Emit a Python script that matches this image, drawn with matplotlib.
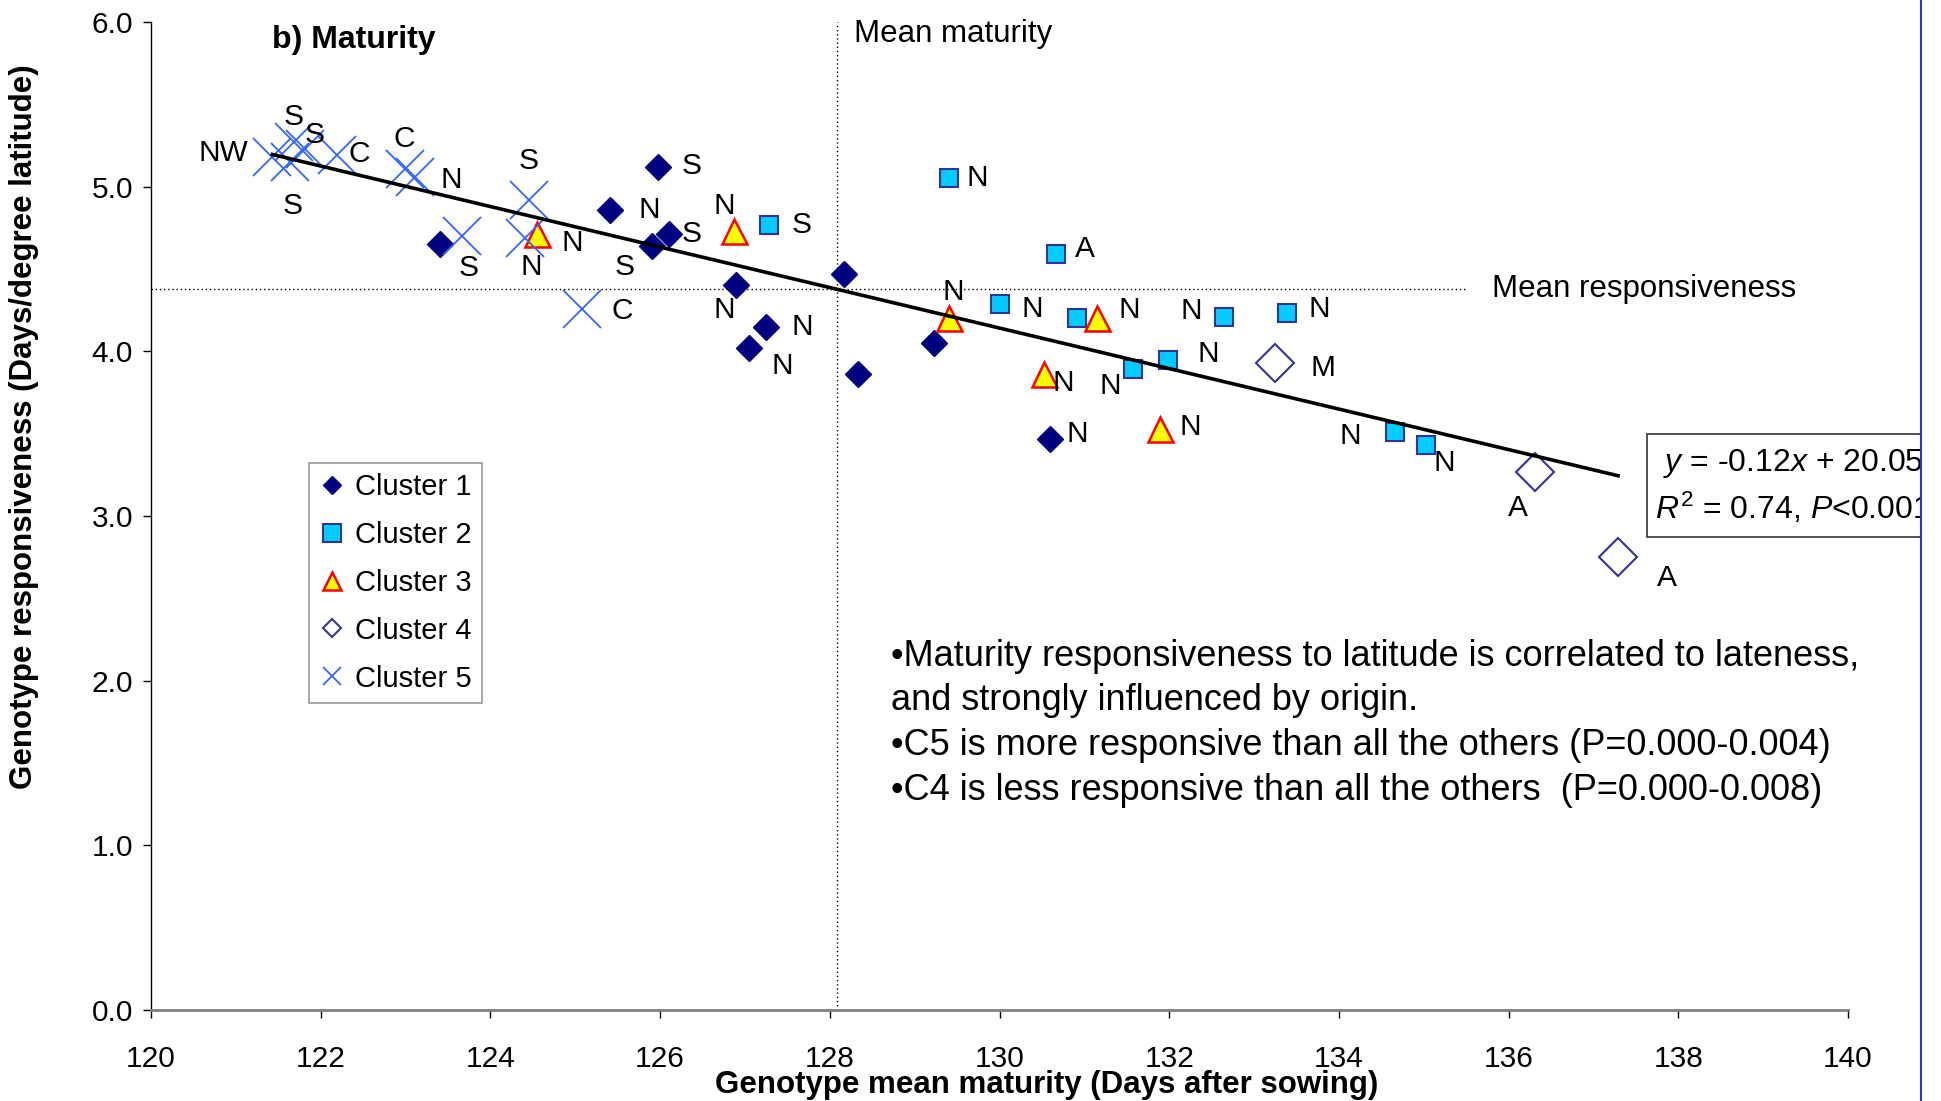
import matplotlib
matplotlib.use("Agg")
import matplotlib.pyplot as plt
from matplotlib.lines import Line2D
from matplotlib.patches import Rectangle
import numpy as np

plt.rcParams['font.family'] = ['Liberation Sans', 'DejaVu Sans']
plt.rcParams['mathtext.fontset'] = 'custom'
plt.rcParams['mathtext.rm'] = 'Liberation Sans'
plt.rcParams['mathtext.it'] = 'Liberation Sans:italic'

# data: maturity (x), responsiveness (y), origin label
c1_x = [123.40, 125.41, 125.98, 125.91, 126.11, 126.90, 127.05, 127.25, 128.17, 128.33, 129.23, 130.59]
c1_y = [4.65, 4.86, 5.12, 4.64, 4.71, 4.40, 4.02, 4.15, 4.47, 3.86, 4.05, 3.47]
c1_lab = ['', 'N', 'S', 'S', 'S', 'N', 'N', 'N', '', '', '', 'N']

c2_x = [127.28, 129.41, 130.66, 130.01, 130.91, 131.57, 131.98, 132.65, 133.39, 134.66, 135.03]
c2_y = [4.77, 5.05, 4.59, 4.29, 4.20, 3.89, 3.95, 4.21, 4.23, 3.51, 3.43]
c2_lab = ['S', 'N', 'A', 'N', '', 'N', 'N', 'N', 'N', 'N', 'N']

c3_x = [124.55, 126.87, 129.41, 130.52, 131.15, 131.89]
c3_y = [4.71, 4.73, 4.20, 3.86, 4.20, 3.53]
c3_lab = ['N', 'N', 'N', 'N', 'N', 'N']

c4_x = [133.25, 136.31, 137.29]
c4_y = [3.93, 3.27, 2.75]
c4_lab = ['M', 'A', 'A']

c5_x = [121.43, 121.68, 121.64, 121.81, 122.19, 122.99, 123.11, 123.66, 124.45, 124.41, 125.08]
c5_y = [5.18, 5.27, 5.15, 5.23, 5.19, 5.11, 5.06, 4.70, 4.92, 4.69, 4.26]
c5_lab = ['NW', 'S', 'S', 'S', 'C', 'C', 'N', 'S', 'S', 'N', 'C']

mean_maturity = 128.08
mean_resp = 4.376

# label offsets (points) relative to each marker
c1_off = [(0, 0), (28, 0), (24, 1), (-20, -15), (16, 0), (-9, -18), (24, -13), (26, 0), (0, 0), (0, 0), (0, 0), (20, 3)]
c2_off = [(24, 0), (20, 0), (21, 4), (23, -4), (0, 0), (-16, -12), (29, 4), (-24, 4), (23, 3), (-32, -3), (13, -13)]
c3_off = [(25, -6), (-7, 18), (3, 19), (14, -6), (23, 6), (22, 1)]
c4_off = [(34, -4), (-12, -26), (35, -15)]
c5_off = [(-35, 3), (0, 18), (2, -32), (7, 10), (16, 1), (0, 21), (26, -2), (5, -23), (0, 28), (4, -21), (29, -2)]

fig = plt.figure(figsize=(19.41, 11.01), dpi=100)
ax = fig.add_axes([0.0778, 0.0827, 0.8743, 0.8973])

ax.plot(c1_x, c1_y, ls='none', marker='D', ms=13.5, mfc='#000080', mec='#000080', zorder=4)
ax.plot(c2_x, c2_y, ls='none', marker='s', ms=13.5, mfc='#00CCFF', mec='#333399', mew=1.5, zorder=4)
ax.plot(c3_x, c3_y, ls='none', marker='^', ms=18, mfc='#FFFF00', mec='#FF0000', mew=1.8, zorder=4)
ax.plot(c4_x, c4_y, ls='none', marker='D', ms=19.5, mfc='none', mec='#333399', mew=1.5, zorder=4)
ax.plot(c5_x, c5_y, ls='none', marker='x', ms=28, mec='#3366FF', mew=1.3, zorder=4)

all_x = np.array(c1_x + c2_x + c3_x + c4_x + c5_x)
all_y = np.array(c1_y + c2_y + c3_y + c4_y + c5_y)
k, b = np.polyfit(all_x, all_y, 1)
xx = np.array([all_x.min(), all_x.max()])
ax.plot(xx, k * xx + b, color='black', lw=2.6, zorder=5)

for xs, ys, labs, offs in [(c1_x, c1_y, c1_lab, c1_off), (c2_x, c2_y, c2_lab, c2_off),
                           (c3_x, c3_y, c3_lab, c3_off), (c4_x, c4_y, c4_lab, c4_off),
                           (c5_x, c5_y, c5_lab, c5_off)]:
    for x, y, t, o in zip(xs, ys, labs, offs):
        if t:
            ax.annotate(t, (x, y), xytext=o, textcoords='offset points',
                        ha='center', va='center', fontsize=21.5, zorder=6)

ax.axvline(mean_maturity, color='black', ls=(0, (1, 2)), lw=1.0, zorder=1)
ax.plot([120, 135.49], [mean_resp, mean_resp], color='black', ls=(0, (1, 2)), lw=1.0, zorder=1)
ax.text(128.29, 5.93, 'Mean maturity', fontsize=22.5, va='center', ha='left')
ax.text(135.8, mean_resp, 'Mean responsiveness', fontsize=22.5, va='center', ha='left')
ax.text(121.43, 5.89, 'b) Maturity', fontsize=23, fontweight='bold', va='center', ha='left')

ax.set_xlim(120, 140)
ax.set_ylim(0, 6)
ax.set_xticks(np.arange(120, 141, 2))
ax.set_yticks(np.arange(0, 6.1, 1))
ax.set_yticklabels([f'{v:.1f}' for v in np.arange(0, 6.1, 1)])
ax.tick_params(axis='both', labelsize=21.5, direction='out', length=6, width=1)
ax.tick_params(axis='x', pad=19)
ax.tick_params(axis='y', pad=7)
ax.spines['top'].set_visible(False)
ax.spines['right'].set_visible(False)
ax.spines['left'].set_linewidth(1)
ax.spines['bottom'].set_color('#808080')
ax.spines['bottom'].set_linewidth(2)

ax.set_xlabel('Genotype mean maturity (Days after sowing)', fontsize=22.5, fontweight='bold')
ax.xaxis.set_label_coords(0.528, -0.061)
ax.set_ylabel('Genotype responsiveness (Days/degree latitude)', fontsize=22.5, fontweight='bold')
ax.yaxis.set_label_coords(-0.066, 0.59)

handles = [
    Line2D([], [], ls='none', marker='D', ms=9.5, mfc='#000080', mec='#000080'),
    Line2D([], [], ls='none', marker='s', ms=12.5, mfc='#00CCFF', mec='#333399', mew=1.5),
    Line2D([], [], ls='none', marker='^', ms=13, mfc='#FFFF00', mec='#FF0000', mew=1.8),
    Line2D([], [], ls='none', marker='D', ms=9.5, mfc='none', mec='#333399', mew=1.5),
    Line2D([], [], ls='none', marker='x', ms=13, mec='#3366FF', mew=1.3),
]
leg = ax.legend(handles, ['Cluster 1', 'Cluster 2', 'Cluster 3', 'Cluster 4', 'Cluster 5'],
                loc='upper left', bbox_to_anchor=(0.159, 0.5795), bbox_transform=fig.transFigure,
                borderaxespad=0, fontsize=21, frameon=True, fancybox=False, edgecolor='#808080',
                handlelength=0.9, handletextpad=0.35, labelspacing=0.68, borderpad=0.35)
leg.get_frame().set_linewidth(1.2)

notes = ['\u2022Maturity responsiveness to latitude is correlated to lateness,',
         'and strongly influenced by origin.',
         '\u2022C5 is more responsive than all the others (P=0.000-0.004)',
         '\u2022C4 is less responsive than all the others  (P=0.000-0.008)']
for i, line in enumerate(notes):
    fig.text(891 / 1941, 1 - (656 + i * 44.7) / 1101, line, fontsize=26, va='center', ha='left')

fig.patches.append(Rectangle((1647 / 1941, 1 - 537 / 1101), 274 / 1941, 103 / 1101,
                             transform=fig.transFigure, fill=True, fc='white', ec='#333333', lw=1.2, zorder=3))
fig.text(1663 / 1941, 1 - 463 / 1101, r'$y$ = -0.12$x$ + 20.05', fontsize=23, va='center', ha='left', zorder=4)
fig.text(1655 / 1941, 1 - 508 / 1101, r'$R^2$ = 0.74, $P$<0.001', fontsize=23, va='center', ha='left', zorder=4)

fig.patches.append(Rectangle((1921 / 1941, 0), 20 / 1941, 1, transform=fig.transFigure,
                             fc='white', ec='none', zorder=10))
fig.lines.append(Line2D([1921 / 1941, 1921 / 1941], [0, 1], transform=fig.transFigure,
                        color='#3333CC', lw=1.5, zorder=11))

fig.savefig('out.png', dpi=100)
